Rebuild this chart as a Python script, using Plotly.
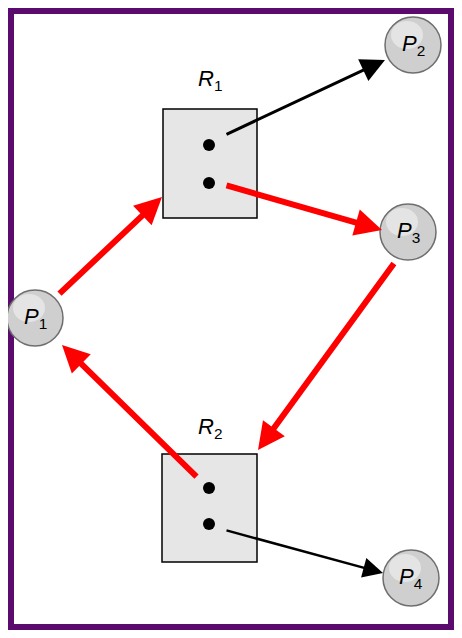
import plotly.graph_objects as go

# process nodes
proc_names = ["P1", "P2", "P3", "P4"]
proc_x = [35, 413, 408, 411]
proc_y = [318, 45, 232, 578]

# resource boxes
res_names = ["R1", "R2"]
res_x0 = [163, 162]
res_x1 = [257, 257]
res_y0 = [109, 454]
res_y1 = [218, 562]
dot_x = [209, 209, 209, 209]
dot_y = [145, 183, 488, 524]

# edges
edge_x0 = [225, 225, 395, 198, 58, 225]
edge_y0 = [135, 185, 262, 478, 295, 530]
edge_x1 = [385, 382, 258, 62, 162, 383]
edge_y1 = [60, 230, 450, 345, 197, 573]
edge_col = ["black", "red", "red", "red", "red", "black"]
edge_w = [3, 6, 6, 6, 6, 2.5]

fig = go.Figure()
shapes = []
# frame (page body margin of 8px offsets the figure)
shapes.append(dict(type="rect", x0=11, y0=11, x1=451, y1=627, line=dict(color="#5b0a6e", width=6)))
for i in range(len(res_names)):
    shapes.append(dict(type="rect", x0=res_x0[i], x1=res_x1[i], y0=res_y0[i], y1=res_y1[i], layer="below",
                       fillcolor="#e6e6e6", line=dict(color="black", width=1.5)))
for i in range(len(proc_names)):
    shapes.append(dict(type="circle", x0=proc_x[i]-28, x1=proc_x[i]+28, y0=proc_y[i]-28, y1=proc_y[i]+28,
                       fillcolor="#cfcfcf", line=dict(color="#6e6e6e", width=1.5)))
    shapes.append(dict(type="circle", x0=proc_x[i]-22, x1=proc_x[i]+10, y0=proc_y[i]-24, y1=proc_y[i]+4,
                       fillcolor="#ececec", line=dict(width=0), opacity=0.7))

fig.add_trace(go.Scatter(x=dot_x, y=dot_y, mode="markers",
                         marker=dict(color="black", size=12), hoverinfo="skip"))

ann = []
for i in range(len(edge_x0)):
    ann.append(dict(x=edge_x1[i], y=edge_y1[i], ax=edge_x0[i], ay=edge_y0[i],
                    xref="x", yref="y", axref="x", ayref="y", text="", showarrow=True,
                    arrowhead=2, arrowsize=0.9 if edge_col[i] == "red" else 1.6,
                    arrowwidth=edge_w[i], arrowcolor=edge_col[i]))
for i in range(len(proc_names)):
    ann.append(dict(x=proc_x[i], y=proc_y[i], xref="x", yref="y", showarrow=False,
                    text="<i>P</i><sub>%s</sub>" % proc_names[i][1],
                    font=dict(family="Liberation Sans", size=22, color="black")))
label_y = [80, 428]
for i in range(len(res_names)):
    ann.append(dict(x=210, y=label_y[i], xref="x", yref="y", showarrow=False,
                    text="<i>R</i><sub>%s</sub>" % res_names[i][1],
                    font=dict(family="Liberation Sans", size=22, color="black")))

fig.update_layout(width=446, height=622, margin=dict(l=0, r=0, t=0, b=0),
                  paper_bgcolor="white", plot_bgcolor="white", showlegend=False,
                  shapes=shapes, annotations=ann,
                  xaxis=dict(range=[8, 454], visible=False, fixedrange=True),
                  yaxis=dict(range=[630, 8], visible=False, fixedrange=True))
fig.write_html("out.html")
